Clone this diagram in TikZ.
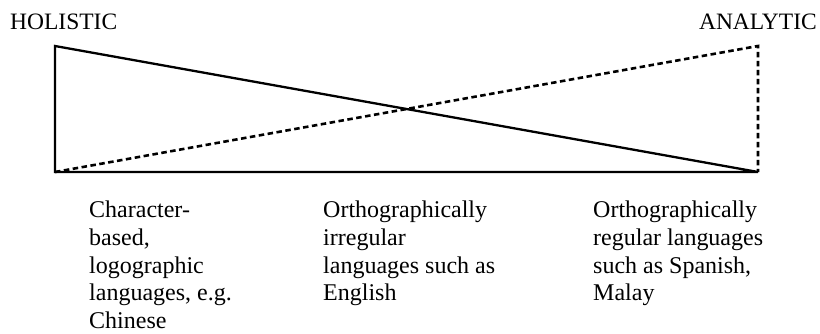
\documentclass[tikz,border=0pt]{standalone}
\usepackage{fontspec}
\setmainfont{Liberation Serif}
\begin{document}
\begin{tikzpicture}[x=1pt,y=1pt,
  edge/.style={line width=2.3pt, line join=miter},
  dashedge/.style={line width=2.6pt, dash pattern=on 5.5pt off 3.5pt},
  lbl/.style={font=\fontsize{23.5}{27.5}\selectfont, inner sep=0pt},
  desc/.style={lbl, font=\fontsize{24}{27.6}\selectfont, anchor=north west, align=left}]
\useasboundingbox (0,0) rectangle (820,333);
\coordinate (lt) at (55,287);
\coordinate (lb) at (55,161);
\coordinate (rt) at (758,287);
\coordinate (rb) at (758,161);
\draw[dashedge] (lb) -- (rt) -- (rb);
\draw[edge] (rb) -- (lb) -- (lt) -- (rb);
\node[lbl, anchor=base west] (hol) at (10,303) {HOLISTIC};
\node[lbl, anchor=base east] (ana) at (817,303) {ANALYTIC};
\node[desc] (c1) at (89,132) {Character-\\based,\\logographic\\languages, e.g.\\Chinese};
\node[desc] (c2) at (323,132) {Orthographically\\irregular\\languages such as\\English};
\node[desc] (c3) at (593,132) {Orthographically\\regular languages\\such as Spanish,\\Malay};
\end{tikzpicture}
\end{document}
